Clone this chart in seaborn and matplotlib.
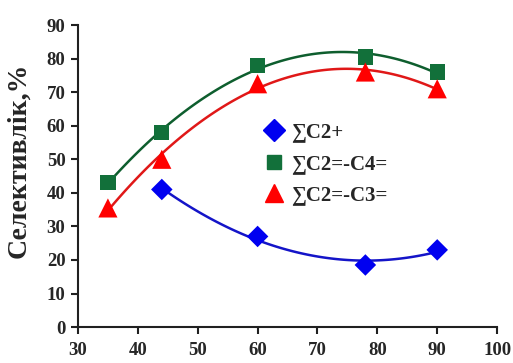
import numpy as np
import pandas as pd
import matplotlib
matplotlib.use("Agg")
import matplotlib.pyplot as plt
import seaborn as sns
from matplotlib.lines import Line2D

# Data
x_c2 = [44, 60, 78, 90]
y_c2 = [41, 27, 18.5, 23]
x_c24 = [35, 44, 60, 78, 90]
y_c24 = [43, 58, 78, 80.5, 76]
x_c23 = [35, 44, 60, 78, 90]
y_c23 = [35.5, 50, 72.5, 76, 71]
labels = ["∑C2+", "∑C2=-C4=", "∑C2=-C3="]
xticks = [30, 40, 50, 60, 70, 80, 90, 100]
yticks = [0, 10, 20, 30, 40, 50, 60, 70, 80, 90]

sns.set_style("ticks")
plt.rcParams['font.family'] = ['Liberation Serif', 'DejaVu Serif']
plt.rcParams['font.weight'] = 'bold'

fig = plt.figure(figsize=(5.13, 3.63), dpi=100)
ax = fig.add_axes([0.152, 0.099, 0.817, 0.832])

blue_m, blue_l = '#0000F0', '#1414C8'
green_m, green_l = '#12703A', '#0E5E2E'
red_m, red_l = '#FF0000', '#E01818'

sns.regplot(x=x_c2, y=y_c2, order=2, ci=None, ax=ax, scatter=False,
            line_kws=dict(color=blue_l, lw=1.8))
sns.regplot(x=x_c24, y=y_c24, order=2, ci=None, ax=ax, scatter=False,
            line_kws=dict(color=green_l, lw=1.8))
sns.regplot(x=x_c23, y=y_c23, order=2, ci=None, ax=ax, scatter=False,
            line_kws=dict(color=red_l, lw=1.8))

sns.scatterplot(x=x_c2, y=y_c2, marker='D', s=120, color=blue_m, ax=ax, edgecolor='none', zorder=5)
sns.scatterplot(x=x_c24, y=y_c24, marker='s', s=120, color=green_m, ax=ax, edgecolor='none', zorder=5)
sns.scatterplot(x=x_c23, y=y_c23, marker='^', s=190, color=red_m, ax=ax, edgecolor='none', zorder=5)

ax.set_xlim(30, 100)
ax.set_ylim(0, 90)
ax.set_xticks(xticks)
ax.set_yticks(yticks)
ax.set_xticklabels([str(t) for t in xticks], fontsize=13.5, fontweight='bold')
ax.set_yticklabels([str(t) for t in yticks], fontsize=13.5, fontweight='bold')
ax.tick_params(axis='both', direction='out', length=5, width=1.5, color='#202020')
ax.tick_params(axis='x', pad=6)
ax.tick_params(axis='y', pad=4)
for s in ['left', 'bottom']:
    ax.spines[s].set_linewidth(1.5)
    ax.spines[s].set_color('#202020')
sns.despine(ax=ax)
ax.set_xlabel('')
ax.set_ylabel('Селективлік,%', fontsize=20, fontweight='bold')
ax.yaxis.set_label_coords(-0.112, 0.553)

handles = [
    Line2D([], [], marker='D', color=blue_m, ls='none', markersize=11),
    Line2D([], [], marker='s', color=green_m, ls='none', markersize=10),
    Line2D([], [], marker='^', color=red_m, ls='none', markersize=13),
]
ax.legend(handles, labels, loc='upper left', bbox_to_anchor=(0.41, 0.705), frameon=False,
          prop=dict(family='Liberation Serif', weight='bold', size=15),
          handletextpad=0.1, labelspacing=0.55, borderaxespad=0, handlelength=1.5)

fig.savefig('out.png', dpi=100)
